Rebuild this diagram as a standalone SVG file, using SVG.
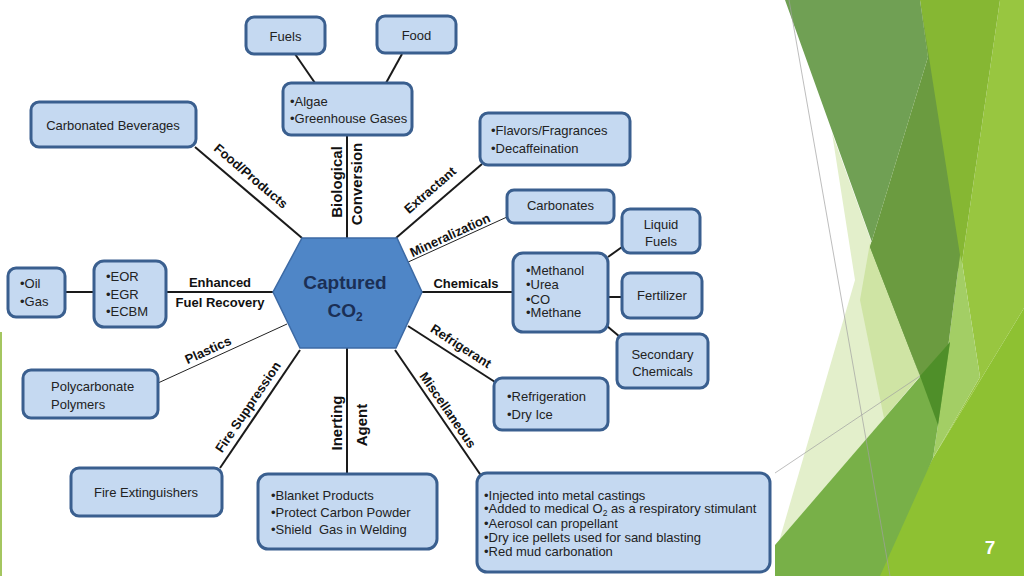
<svg xmlns="http://www.w3.org/2000/svg" width="1024" height="576" viewBox="0 0 1024 576">
<style>
.box{fill:#c5d9f1;stroke:#3a5f8f;stroke-width:3}
.t{font-family:"Liberation Sans",Arial,sans-serif;font-size:13px;fill:#222}
.lb{font-family:"Liberation Sans",Arial,sans-serif;font-size:13px;font-weight:bold;fill:#111}
.vl{font-family:"Liberation Sans",Arial,sans-serif;font-size:15px;font-weight:bold;fill:#111}
.ln{stroke:#1a1a1a;stroke-width:2;fill:none}
.thin{stroke:#222;stroke-width:1;fill:none}
.gl{stroke:#a0a0a0;stroke-width:0.7;fill:none}
</style>
<rect width="1024" height="576" fill="#ffffff"/>
<g id="decor">
<polygon points="832,133 855,280 778,545 920,376" fill="#e3efcb"/>
<polygon points="870,243 920,376 884,418 860,300" fill="#cfe4a4"/>
<polygon points="1000,0 1024,0 1024,308 933,458 980,377 962,262" fill="#98c640"/>
<polygon points="1024,308 1024,576 872,576 933,458" fill="#8ec132"/>
<polygon points="920,0 1000,0 962,262 958,270" fill="#86b733"/>
<polygon points="960,255 962,262 980,377 933,458 938,425" fill="#a3ce65"/>
<polygon points="785,0 920,0 928,57 870,247 920,376" fill="#70a054"/>
<polygon points="920,0 960,255 938,425 920,376 870,247 928,57" fill="#6b9b40"/>
<polygon points="775,545 950,342 938,425 933,458 880,576 775,576" fill="#78b048"/>
<polygon points="920,376 950,342 938,425" fill="#4f8f29"/>
<line class="gl" x1="789" y1="0" x2="890" y2="576"/>
<line class="gl" x1="775" y1="473" x2="920" y2="376"/>
<line x1="1" y1="332" x2="1" y2="576" stroke="#a4c660" stroke-width="2"/>
<text x="990" y="554" text-anchor="middle" font-family="Liberation Sans,Arial,sans-serif" font-size="19" font-weight="bold" fill="#ffffff">7</text>
</g>
<g id="connectors">
<line class="ln" x1="295" y1="54" x2="315" y2="83"/>
<line class="ln" x1="402" y1="54" x2="386" y2="83"/>
<line class="ln" x1="347" y1="135" x2="347" y2="238"/>
<line class="ln" x1="195" y1="147" x2="302" y2="238"/>
<line class="ln" x1="482" y1="164" x2="396" y2="238"/>
<line class="thin" x1="507" y1="217" x2="406" y2="263"/>
<line class="ln" x1="422" y1="292" x2="513" y2="292"/>
<line class="ln" x1="608" y1="257" x2="622" y2="247"/>
<line class="ln" x1="608" y1="297" x2="622" y2="297"/>
<line class="ln" x1="607" y1="326" x2="620" y2="337"/>
<line class="ln" x1="408" y1="326" x2="495" y2="382"/>
<line class="ln" x1="395" y1="350" x2="482" y2="477"/>
<line class="ln" x1="347" y1="348" x2="347" y2="474"/>
<line class="ln" x1="300" y1="350" x2="220" y2="468"/>
<line class="thin" x1="287" y1="324" x2="158" y2="383"/>
<line class="ln" x1="166" y1="292" x2="273" y2="292"/>
<line class="ln" x1="65" y1="292" x2="94" y2="292"/>
<text class="lb" text-anchor="middle" dy="0.35em" transform="translate(251,176) rotate(40.4)">Food/Products</text>
<text class="vl" text-anchor="middle" dy="0.35em" transform="translate(337,182) rotate(-90)">Biological</text>
<text class="vl" text-anchor="middle" dy="0.35em" font-size="14.5" transform="translate(357,184) rotate(-90)">Conversion</text>
<text class="lb" text-anchor="middle" dy="0.35em" transform="translate(430,190) rotate(-40.7)">Extractant</text>
<text class="lb" text-anchor="middle" dy="0.35em" transform="translate(450,235) rotate(-24.5)">Mineralization</text>
<text class="lb" x="466" y="288" text-anchor="middle">Chemicals</text>
<text class="lb" x="220" y="287" text-anchor="middle">Enhanced</text>
<text class="lb" x="220" y="307" text-anchor="middle">Fuel Recovery</text>
<text class="lb" text-anchor="middle" dy="0.35em" transform="translate(208,350) rotate(-24.5)">Plastics</text>
<text class="lb" text-anchor="middle" dy="0.35em" transform="translate(248,407) rotate(-56)">Fire Suppression</text>
<text class="vl" text-anchor="middle" dy="0.35em" font-size="16" transform="translate(337,423) rotate(-90)">Inerting</text>
<text class="vl" text-anchor="middle" dy="0.35em" font-size="16" transform="translate(362,425) rotate(-90)">Agent</text>
<text class="lb" text-anchor="middle" dy="0.35em" transform="translate(461,346) rotate(32.8)">Refrigerant</text>
<text class="lb" text-anchor="middle" dy="0.35em" transform="translate(448,410) rotate(55.4)">Miscellaneous</text>
</g>
<g id="hub">
<polygon points="302,238 397,238 422,292 396,348 300,348 273,292" fill="#4f86c7" stroke="#3c6aa5" stroke-width="1.5"/>
<text x="345" y="288.5" text-anchor="middle" font-family="Liberation Sans,Arial,sans-serif" font-size="19" font-weight="bold" fill="#1b2f55">Captured</text>
<text x="345" y="317" text-anchor="middle" font-family="Liberation Sans,Arial,sans-serif" font-size="19" font-weight="bold" fill="#1b2f55">CO<tspan font-size="12" dy="4">2</tspan></text>
</g>
<g id="fuels"><rect class="box" x="246" y="17" width="79" height="37" rx="8"/><text class="t" x="285.5" y="40.5" text-anchor="middle">Fuels</text></g>
<g id="food"><rect class="box" x="377" y="16" width="79" height="37" rx="8"/><text class="t" x="416.5" y="40" text-anchor="middle">Food</text></g>
<g id="algae"><rect class="box" x="283" y="83" width="129" height="52" rx="8"/><text class="t" x="290" y="105.5">•Algae</text><text class="t" x="290" y="122.5">•Greenhouse Gases</text></g>
<g id="carbonated"><rect class="box" x="31" y="102" width="165" height="45" rx="8"/><text class="t" x="113" y="129.5" text-anchor="middle">Carbonated Beverages</text></g>
<g id="flavors"><rect class="box" x="480" y="113" width="150" height="52" rx="8"/><text class="t" x="491" y="134.5">•Flavors/Fragrances</text><text class="t" x="491" y="152.5">•Decaffeination</text></g>
<g id="carbonates"><rect class="box" x="507" y="190" width="107" height="33" rx="7"/><text class="t" x="560.5" y="209.5" text-anchor="middle">Carbonates</text></g>
<g id="liquidfuels"><rect class="box" x="622" y="209" width="78" height="44" rx="8"/><text class="t" x="661" y="228.5" text-anchor="middle">Liquid</text><text class="t" x="661" y="245.5" text-anchor="middle">Fuels</text></g>
<g id="methanol"><rect class="box" x="513" y="253" width="95" height="79" rx="10"/><text class="t" x="526" y="274.5">•Methanol</text><text class="t" x="526" y="289">•Urea</text><text class="t" x="526" y="303.5">•CO</text><text class="t" x="526" y="317">•Methane</text></g>
<g id="fertilizer"><rect class="box" x="622" y="273" width="80" height="45" rx="8"/><text class="t" x="662" y="300" text-anchor="middle">Fertilizer</text></g>
<g id="secondary"><rect class="box" x="617" y="334" width="91" height="54" rx="8"/><text class="t" x="662.5" y="358.8" text-anchor="middle">Secondary</text><text class="t" x="662.5" y="375.5" text-anchor="middle">Chemicals</text></g>
<g id="refrigeration"><rect class="box" x="494" y="378" width="114" height="52" rx="8"/><text class="t" x="507" y="400.5">•Refrigeration</text><text class="t" x="507" y="418.5">•Dry Ice</text></g>
<g id="misc"><rect class="box" x="477" y="473" width="293" height="99" rx="10"/>
<text class="t" x="484" y="499.5" font-size="12.8">•Injected into metal castings</text>
<text class="t" x="484" y="513" font-size="12.8">•Added to medical O<tspan font-size="8.5" dy="2.5">2</tspan><tspan dy="-2.5"> as a respiratory stimulant</tspan></text>
<text class="t" x="484" y="528" font-size="12.8">•Aerosol can propellant</text>
<text class="t" x="484" y="542" font-size="12.8">•Dry ice pellets used for sand blasting</text>
<text class="t" x="484" y="556" font-size="12.8">•Red mud carbonation</text></g>
<g id="oilgas"><rect class="box" x="8" y="268" width="57" height="49" rx="8"/><text class="t" x="20" y="288">•Oil</text><text class="t" x="20" y="305.5">•Gas</text></g>
<g id="eor"><rect class="box" x="94" y="261" width="72" height="66" rx="10"/><text class="t" x="106" y="281">•EOR</text><text class="t" x="106" y="298.5">•EGR</text><text class="t" x="106" y="316">•ECBM</text></g>
<g id="polycarbonate"><rect class="box" x="23" y="370" width="135" height="48" rx="8"/><text class="t" x="51" y="390.5">Polycarbonate</text><text class="t" x="51" y="408.5">Polymers</text></g>
<g id="extinguishers"><rect class="box" x="71" y="468" width="151" height="48" rx="8"/><text class="t" x="146" y="496.5" text-anchor="middle">Fire Extinguishers</text></g>
<g id="blanket"><rect class="box" x="258" y="474" width="179" height="75" rx="10"/><text class="t" x="271" y="499.5">•Blanket Products</text><text class="t" x="271" y="516.5">•Protect Carbon Powder</text><text class="t" x="271" y="533.5" xml:space="preserve">•Shield  Gas in Welding</text></g>
</svg>
